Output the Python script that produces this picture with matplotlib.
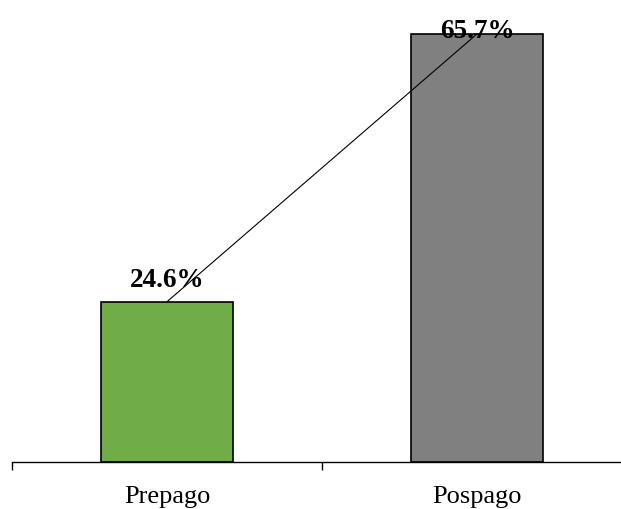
import matplotlib.pyplot as plt
import numpy as np

categories = ['Prepago', 'Pospago']
values = [24.6, 65.7]
colors = ['#70AD47', '#808080']
label_offsets = [11.5, -2.5]  # points above bar top for the value labels

plt.rcParams['font.family'] = ['Liberation Serif', 'DejaVu Serif']

fig = plt.figure(figsize=(6.21, 5.10), dpi=100)
ax = fig.add_axes([12 / 621, 47 / 510, 620 / 621, 458 / 510])

x = np.arange(len(categories))
ax.bar(x, values, width=0.426, color=colors, edgecolor='black', linewidth=1.2, zorder=2)

# trend line joining the tops of the bars
ax.plot(x, values, color='black', lw=0.8, zorder=3)

for xi, v, off in zip(x, values, label_offsets):
    ax.annotate('{0:.1f}%'.format(v), (xi, v), xytext=(0, off), textcoords='offset points',
                ha='center', va='baseline', fontsize=19.5, fontweight='bold', zorder=4)

ax.set_xlim(-0.5, 1.5)
ax.set_ylim(0, 70.3)

for s in ['left', 'right', 'top']:
    ax.spines[s].set_visible(False)
ax.spines['bottom'].set_linewidth(1.0)
ax.set_yticks([])

# boundary ticks between categories, labels centred under the bars
ax.set_xticks([-0.5, 0.5, 1.5])
ax.set_xticklabels([])
ax.tick_params(axis='x', which='major', length=6, width=1.0, direction='out')
ax.set_xticks(x, minor=True)
ax.set_xticklabels(categories, minor=True, fontsize=19)
ax.tick_params(axis='x', which='minor', length=0, pad=16.5)

plt.savefig('out.png', dpi=100)
